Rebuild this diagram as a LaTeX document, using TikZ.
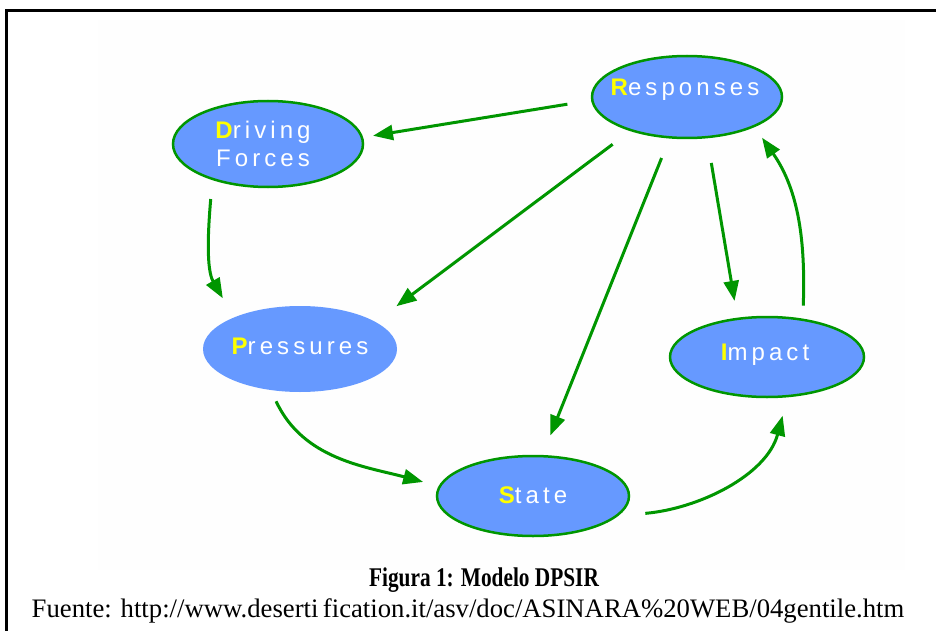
\documentclass[tikz,border=0pt]{standalone}
\usepackage{fontspec}
\setmainfont{Liberation Serif}
\newfontfamily\lblfont[LetterSpace=17]{Liberation Sans}
\usetikzlibrary{shapes.geometric,arrows.meta}
\definecolor{dgreen}{RGB}{0,150,0}
\definecolor{eblue}{RGB}{102,153,255}
\definecolor{yel}{RGB}{255,255,0}
\newcommand{\fl}[1]{{\bfseries\color{yel}#1}}
\begin{document}
\begin{tikzpicture}[x=1pt,y=1pt,
  ell/.style={ellipse, fill=eblue, draw=dgreen, line width=2.5pt, inner sep=0pt},
  lbl/.style={text=white, font=\lblfont\fontsize{24}{28}\selectfont, align=center, inner sep=0pt},
  arr/.style={draw=dgreen, line width=3pt, -{Triangle[length=20pt,width=15pt]}},
  captxt/.style={inner sep=0pt}]
\useasboundingbox (0,0) rectangle (936,-631);
\fill[white] (0,0) rectangle (936,-631);
\fill[black!0.3] (98,-20) rectangle (905,-570);
\draw[line width=3pt] (6,-631) -- (6,-11) -- (936,-11);

% ellipses
\node[ell, minimum width=190pt, minimum height=86pt] (drv) at (268,-144) {};
\node[ell, minimum width=190pt, minimum height=82pt] (resp) at (687,-97) {};
\node[ell, draw=none, minimum width=194pt, minimum height=86pt] (press) at (300,-349) {};
\node[ell, minimum width=194pt, minimum height=80pt] (imp) at (767,-357) {};
\node[ell, minimum width=192pt, minimum height=80pt] (state) at (533,-496) {};

% labels
\node[lbl] (drvT) at (263,-144) {\fl{D}riving\\Forces};
\node[lbl] (respT) at (685,-90) {\fl{R}esponses};
\node[lbl] (pressT) at (300,-346) {\fl{P}ressures};
\node[lbl] (impT) at (765,-355) {\fl{I}mpact};
\node[lbl] (stateT) at (533,-495) {\fl{S}tate};

% arrows
\draw[arr, shorten <=24pt, shorten >=10pt] (resp.182) -- (drv.4);
\draw[arr, shorten <=22pt, shorten >=25pt] (resp.211) -- (press.20);
\draw[arr, shorten <=21pt, shorten >=21pt] (resp.247) -- (state.77);
\draw[arr, shorten <=25pt, shorten >=17pt] (resp.296) -- (imp.127);
\draw[arr, shorten <=13pt, shorten >=13pt] (imp.47) to[out=88, in=-55] (resp.336);
\draw[arr, shorten <=19pt, shorten >=21pt] (drv.213) to[out=-95, in=120] (press.154);
\draw[arr, shorten <=11pt, shorten >=16pt] (press.236) to[out=-65, in=165] (state.174);
\draw[arr, shorten <=27pt, shorten >=19pt] (state.-13) to[out=5, in=-105] (imp.-63);

% caption
\node[captxt] (fig) at (484,-580) {\scalebox{0.79}[1]{\fontsize{27}{30}\selectfont\bfseries Figura 1: Modelo DPSIR}};
\node[captxt] (src) at (468,-611) {\fontsize{26.7}{30}\selectfont Fuente: http://www.deserti\,fication.it/asv/doc/ASINARA\%20WEB/04gentile.htm};
\end{tikzpicture}
\end{document}
